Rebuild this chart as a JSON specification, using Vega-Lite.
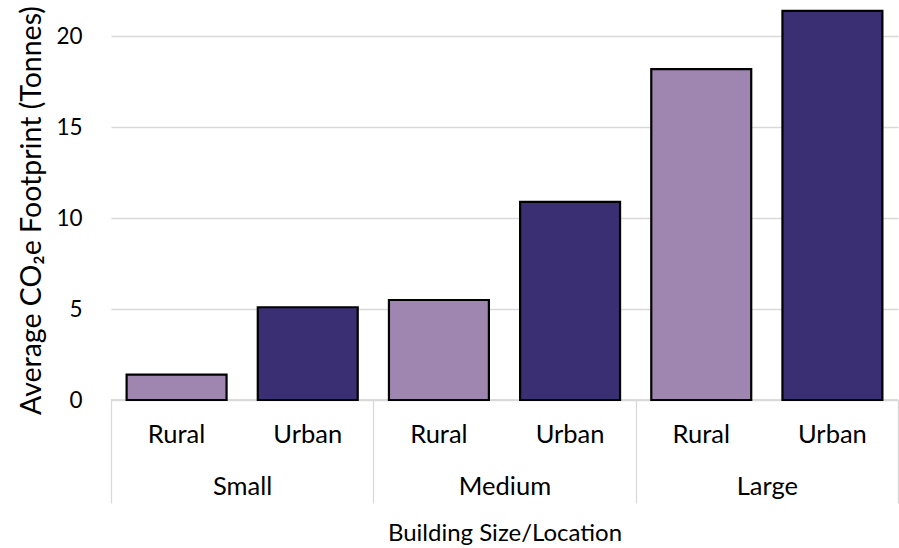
{
  "$schema": "https://vega.github.io/schema/vega-lite/v6.json",
  "width": 787,
  "height": 400,
  "autosize": {"type": "none"},
  "padding": {"left": 111, "top": 0, "right": 1, "bottom": 148},
  "background": "#ffffff",
  "config": {
    "view": {"stroke": null},
    "font": "Lato",
    "axis": {"labelColor": "#000000", "titleColor": "#000000", "titleFontWeight": "normal"}
  },
  "data": {
    "values": [
      {"Bar": "Small Rural", "Size": "Small", "Location": "Rural", "Footprint": 1.4},
      {"Bar": "Small Urban", "Size": "Small", "Location": "Urban", "Footprint": 5.1},
      {"Bar": "Medium Rural", "Size": "Medium", "Location": "Rural", "Footprint": 5.5},
      {"Bar": "Medium Urban", "Size": "Medium", "Location": "Urban", "Footprint": 10.9},
      {"Bar": "Large Rural", "Size": "Large", "Location": "Rural", "Footprint": 18.2},
      {"Bar": "Large Urban", "Size": "Large", "Location": "Urban", "Footprint": 21.4}
    ]
  },
  "layer": [
    {
      "description": "Baseline segments under each size group; its x axis carries the group labels and separators",
      "mark": {"type": "bar", "fill": null, "fillOpacity": 0, "stroke": "#d9d9d9", "strokeWidth": 1.3},
      "encoding": {
        "x": {
          "field": "Size",
          "type": "nominal",
          "sort": ["Small", "Medium", "Large"],
          "scale": {"paddingInner": 0, "paddingOuter": 0},
          "axis": {
            "orient": "bottom",
            "domain": false,
            "ticks": true,
            "tickBand": "extent",
            "tickSize": 103,
            "tickColor": "#d9d9d9",
            "tickWidth": 1.3,
            "labelAngle": 0,
            "labelFontSize": 25.5,
            "labelPadding": -29,
            "title": "Building Size/Location",
            "titleFontSize": 24,
            "titlePadding": 18
          }
        },
        "y": {"datum": 0, "type": "quantitative"},
        "y2": {"datum": 0}
      }
    },
    {
      "mark": {"type": "bar", "stroke": "#000000", "strokeWidth": 2.2},
      "encoding": {
        "x": {
          "field": "Bar",
          "type": "nominal",
          "sort": null,
          "scale": {"paddingInner": 0.238, "paddingOuter": 0.119},
          "axis": {
            "orient": "bottom",
            "title": null,
            "domain": false,
            "ticks": false,
            "labelAngle": 0,
            "labelExpr": "split(datum.label, ' ')[1]",
            "labelFontSize": 25.5,
            "labelPadding": 22
          }
        },
        "y": {
          "field": "Footprint",
          "type": "quantitative",
          "scale": {"domain": [0, 22], "nice": false},
          "axis": {
            "values": [0, 5, 10, 15, 20],
            "title": "Average CO₂e Footprint (Tonnes)",
            "titleFontSize": 28.5,
            "titlePadding": 9,
            "titleY": 210,
            "grid": true,
            "gridColor": "#d9d9d9",
            "gridWidth": 1.3,
            "domain": false,
            "ticks": false,
            "labelFontSize": 22.5,
            "labelPadding": 29
          }
        },
        "color": {
          "field": "Location",
          "type": "nominal",
          "scale": {"domain": ["Rural", "Urban"], "range": ["#9f86b1", "#392f72"]},
          "legend": null
        }
      }
    }
  ],
  "resolve": {"scale": {"x": "independent"}}
}
